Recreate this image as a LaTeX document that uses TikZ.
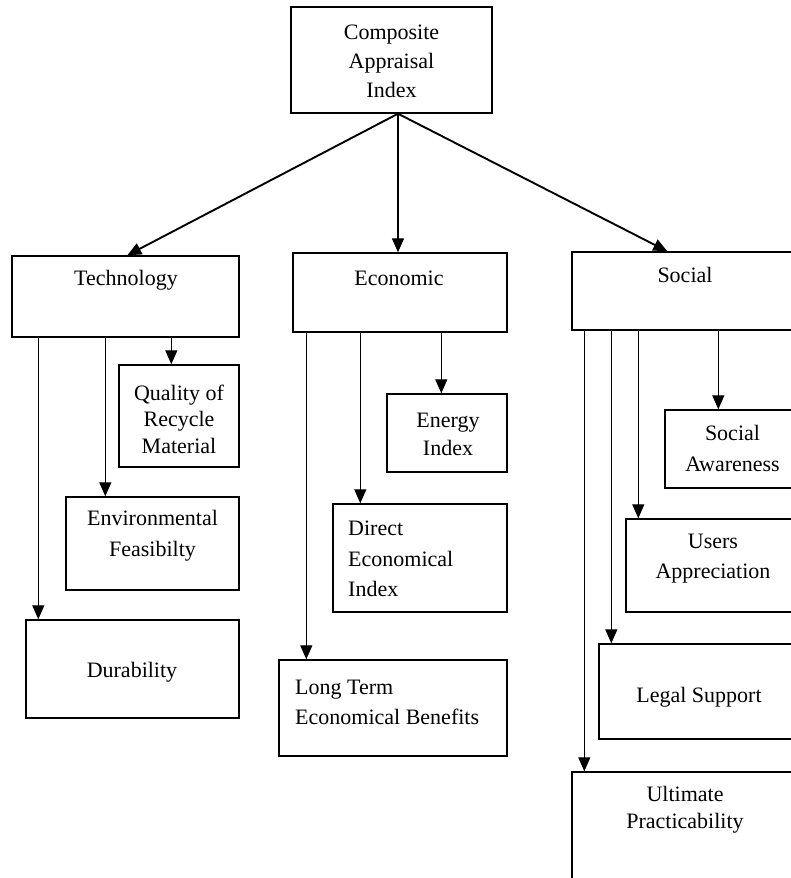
\documentclass[tikz,border=0pt]{standalone}
\usepackage{fontspec}
\setmainfont{Liberation Serif}
\usetikzlibrary{arrows.meta}
\tikzset{
  box/.style={draw=black, line width=1.4pt, rectangle, inner sep=0pt, fill=white},
  txt/.style={inner sep=0pt, font=\fontsize{22}{29}\selectfont, text=black},
  arrB/.style={line width=1.9pt, -{Triangle[length=14pt,width=12pt]}},
  arrV/.style={line width=1.3pt, -{Triangle[length=14pt,width=12pt]}}
}
\begin{document}
\begin{tikzpicture}[x=1pt,y=-1pt]
\useasboundingbox (0,0) rectangle (791,878);
\clip (0,0) rectangle (791,878);
\fill[white] (0,0) rectangle (791,878);
% boxes
\node[box, minimum width=201pt, minimum height=106pt] (comp) at (391.5,60) {};
\node[box, minimum width=227pt, minimum height=81pt] (tech) at (125.5,296.5) {};
\node[box, minimum width=120pt, minimum height=102pt] (qual) at (179,416) {};
\node[box, minimum width=173pt, minimum height=93pt] (env) at (152.5,543.5) {};
\node[box, minimum width=213pt, minimum height=98pt] (dur) at (132.5,669) {};
\node[box, minimum width=214pt, minimum height=79pt] (econ) at (400,292.5) {};
\node[box, minimum width=120pt, minimum height=78pt] (energy) at (447,433) {};
\node[box, minimum width=174pt, minimum height=108pt] (direct) at (420,558) {};
\node[box, minimum width=228pt, minimum height=96pt] (long) at (393,708) {};
\node[box, minimum width=228pt, minimum height=78pt] (social) at (686,291) {};
\node[box, minimum width=135pt, minimum height=78pt] (aware) at (732.5,449) {};
\node[box, minimum width=174pt, minimum height=93pt] (users) at (713,565.5) {};
\node[box, minimum width=201pt, minimum height=95pt] (legal) at (699.5,691.5) {};
\node[box, minimum width=228pt, minimum height=128pt] (ult) at (686,836) {};
% texts
\node[txt, align=center] (comp-t) at (391.5,61) {Composite\\Appraisal\\Index};
\node[txt] (tech-t) at (126,280) {Technology};
\node[txt, align=center, font=\fontsize{22}{26.5}\selectfont] (qual-t) at (179,419) {Quality of\\Recycle\\Material};
\node[txt, align=center, font=\fontsize{22}{31}\selectfont] (env-t) at (152.5,536) {Environmental\\Feasibilty};
\node[txt] (dur-t) at (132,672) {Durability};
\node[txt] (econ-t) at (399,278) {Economic};
\node[txt, align=center, font=\fontsize{22}{28}\selectfont] (energy-t) at (448,434) {Energy\\Index};
\node[txt, align=left, anchor=west, font=\fontsize{22}{30.5}\selectfont] (direct-t) at (348,559) {Direct\\Economical\\Index};
\node[txt, align=left, anchor=west, font=\fontsize{22}{30}\selectfont] (long-t) at (295,702) {Long Term\\Economical Benefits};
\node[txt] (social-t) at (685,275) {Social};
\node[txt, align=center, font=\fontsize{22}{31}\selectfont] (aware-t) at (732.5,448) {Social\\Awareness};
\node[txt, align=center, font=\fontsize{22}{30}\selectfont] (users-t) at (713,559) {Users\\Appreciation};
\node[txt] (legal-t) at (699,697) {Legal Support};
\node[txt, align=center, font=\fontsize{22}{27}\selectfont] (ult-t) at (685,810) {Ultimate\\Practicability};
% top-level connectors
\coordinate (apex) at ([xshift=6.5pt]comp.south);
\draw[arrB] (apex) -- ([xshift=116pt]tech.north west);
\draw[arrV] (apex) -- (apex |- econ.north);
\draw[arrB] (apex) -- ([xshift=96pt]social.north west);
% technology
\draw[arrV] ([xshift=27pt]tech.south west) coordinate (t1) -- (t1 |- dur.north);
\draw[arrV] ([xshift=94pt]tech.south west) coordinate (t2) -- (t2 |- env.north);
\draw[arrV] ([xshift=160pt]tech.south west) coordinate (t3) -- (t3 |- qual.north);
% economic
\draw[arrV] ([xshift=14pt]econ.south west) coordinate (e1) -- (e1 |- long.north);
\draw[arrV] ([xshift=68pt]econ.south west) coordinate (e2) -- (e2 |- direct.north);
\draw[arrV] ([xshift=149pt]econ.south west) coordinate (e3) -- (e3 |- energy.north);
% social
\draw[arrV] ([xshift=13pt]social.south west) coordinate (s1) -- (s1 |- ult.north);
\draw[arrV] ([xshift=40pt]social.south west) coordinate (s2) -- (s2 |- legal.north);
\draw[arrV] ([xshift=67pt]social.south west) coordinate (s3) -- (s3 |- users.north);
\draw[arrV] ([xshift=147pt]social.south west) coordinate (s4) -- (s4 |- aware.north);
\end{tikzpicture}
\end{document}
